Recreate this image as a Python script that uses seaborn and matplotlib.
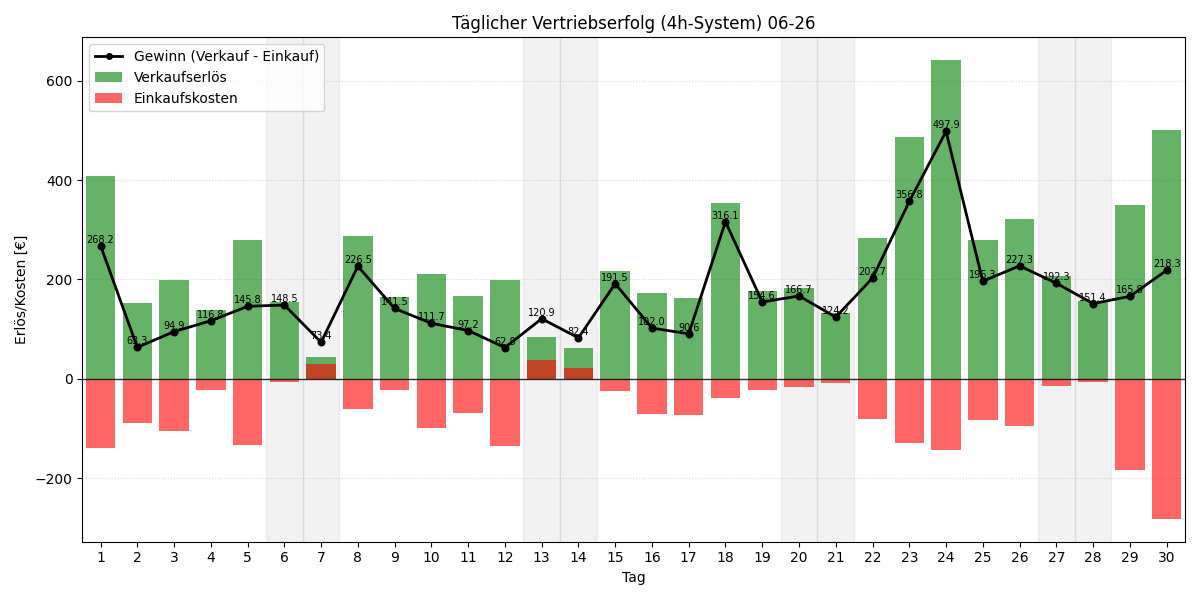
import matplotlib
matplotlib.use("Agg")
import matplotlib.pyplot as plt
import seaborn as sns
import numpy as np
import pandas as pd
from matplotlib.lines import Line2D
from matplotlib.patches import Patch

days = list(range(1, 31))
verkauf = [408.0, 153.0, 199.0, 139.0, 279.0, 155.0, 43.6, 287.0, 165.0, 211.0,
           167.0, 199.0, 84.0, 61.5, 217.0, 173.0, 163.0, 354.0, 177.0, 183.0,
           133.0, 283.0, 486.0, 641.0, 279.0, 322.0, 207.0, 157.0, 350.0, 500.0]
einkauf = [-139.8, -89.7, -104.1, -22.2, -133.2, -6.5, 29.8, -60.5, -23.5, -99.3,
           -69.8, -136.2, 36.9, 20.9, -25.5, -71.0, -72.4, -37.9, -22.4, -16.3,
           -8.8, -80.3, -129.2, -143.1, -82.7, -94.7, -14.7, -5.6, -184.2, -281.7]
gewinn = [268.2, 63.3, 94.9, 116.8, 145.8, 148.5, 73.4, 226.5, 141.5, 111.7,
          97.2, 62.8, 120.9, 82.4, 191.5, 102.0, 90.6, 316.1, 154.6, 166.7,
          124.2, 202.7, 356.8, 497.9, 196.3, 227.3, 192.3, 151.4, 165.8, 218.3]
wochenende = [6, 7, 13, 14, 20, 21, 27, 28]

df = pd.DataFrame({"Tag": days, "Verkauf": verkauf, "Einkauf": einkauf, "Gewinn": gewinn})

fig, ax = plt.subplots(figsize=(12, 6), dpi=100)

for d in wochenende:
    ax.axvspan(d - 0.5, d + 0.5, color="gray", alpha=0.1, zorder=0)

sns.barplot(data=df, x="Tag", y="Verkauf", native_scale=True, color="green",
            alpha=0.6, saturation=1, width=0.8, errorbar=None, ax=ax, zorder=2)
sns.barplot(data=df, x="Tag", y="Einkauf", native_scale=True, color="red",
            alpha=0.6, saturation=1, width=0.8, errorbar=None, ax=ax, zorder=2)
sns.lineplot(data=df, x="Tag", y="Gewinn", color="black", linewidth=2,
             marker="o", markersize=5, markeredgecolor="black", ax=ax, zorder=4)

for d, g in zip(days, gewinn):
    ax.text(d, g + 2, f"{g:.1f}", ha="center", va="bottom", fontsize=7, zorder=5)

ax.axhline(0, color="black", linewidth=1, alpha=0.8, zorder=3)
ax.grid(axis="y", linestyle=":", alpha=0.5)
ax.set_axisbelow(True)

ax.set_xticks(days)
ax.set_xticklabels([str(d) for d in days])
ax.set_xlim(0.5, 30.5)
ax.set_title("Täglicher Vertriebserfolg (4h-System) 06-26")
ax.set_xlabel("Tag")
ax.set_ylabel("Erlös/Kosten [€]")

handles = [
    Line2D([0], [0], color="black", linewidth=2, marker="o", markersize=4),
    Patch(facecolor="green", alpha=0.6),
    Patch(facecolor="red", alpha=0.6),
]
labels = ["Gewinn (Verkauf - Einkauf)", "Verkaufserlös", "Einkaufskosten"]
ax.legend(handles, labels, loc="upper left")

fig.tight_layout()
fig.savefig("out.png", dpi=100)
